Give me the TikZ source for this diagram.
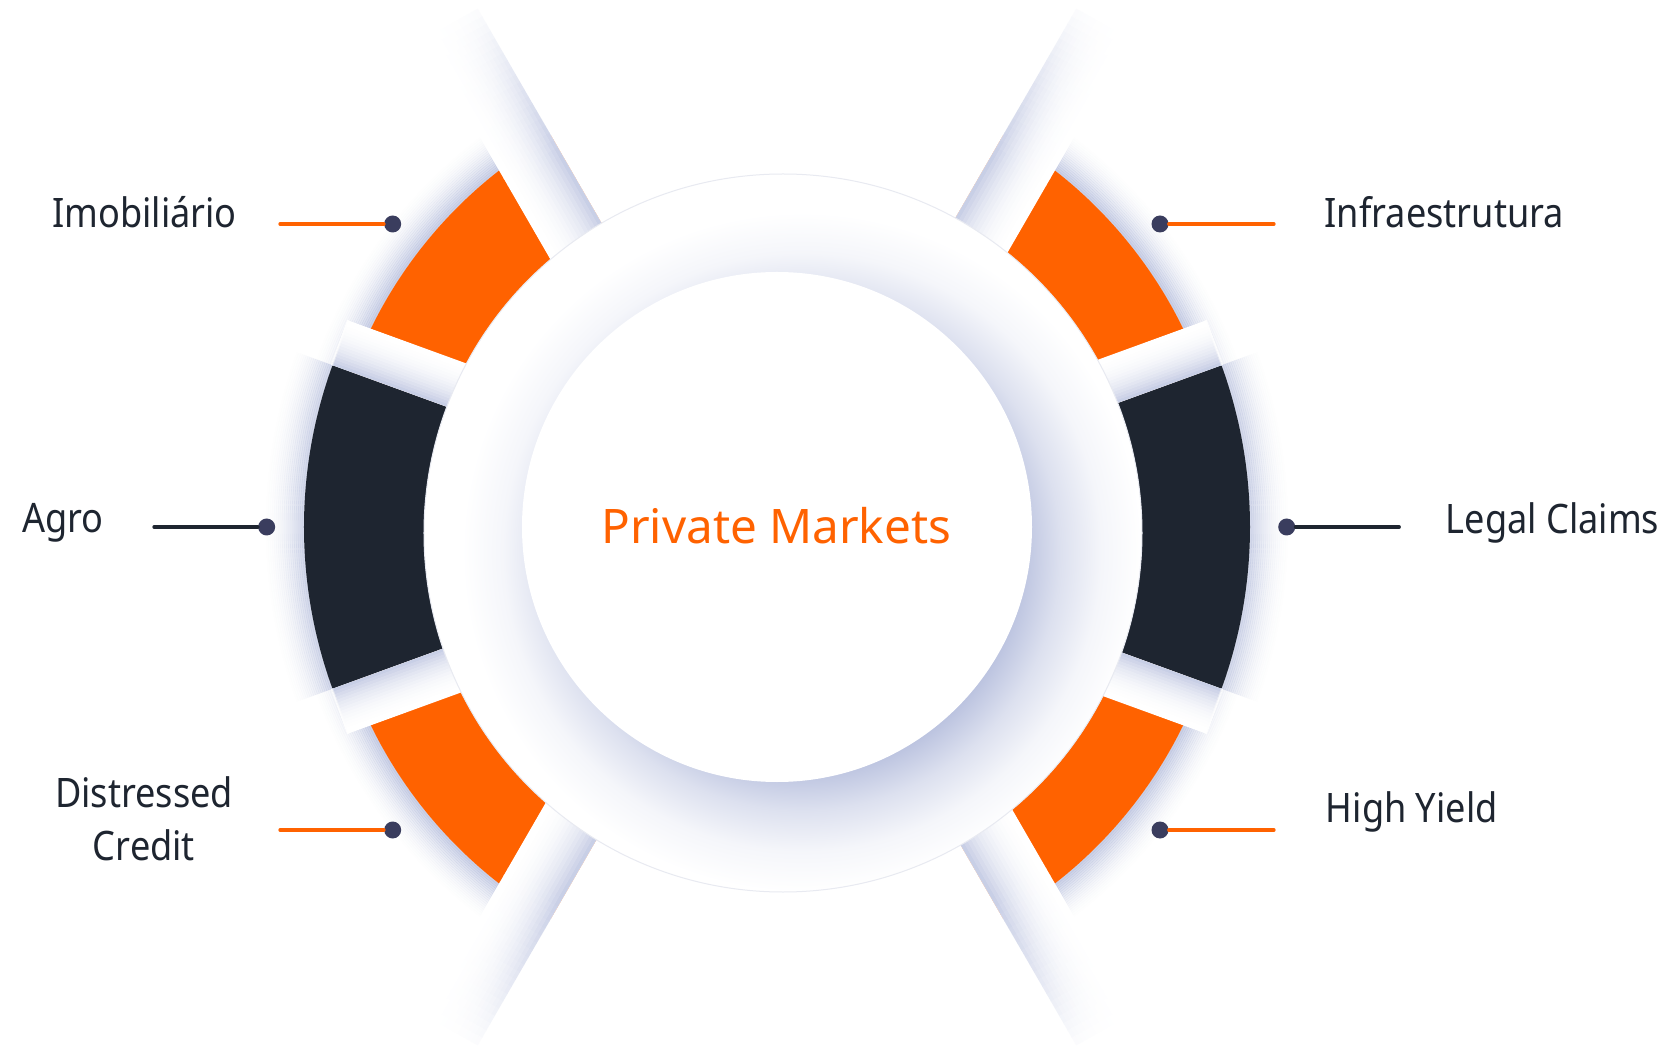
\documentclass[tikz,border=0pt]{standalone}
\usepackage{fontspec}
\setmainfont{Noto Sans}
\newfontfamily\lblfont{Noto Sans}[FakeStretch=0.89]
\definecolor{orng}{HTML}{FF6200}
\definecolor{darkseg}{HTML}{1E2530}
\definecolor{txt}{HTML}{1E2530}
\definecolor{dotc}{HTML}{3A3D5E}
\definecolor{sh}{HTML}{BAC2DF}
\colorlet{shA}{sh!50!white}
\colorlet{shB}{sh!15!white}
\pgfdeclareradialshading{icshadow}{\pgfpoint{0bp}{0bp}}{color(0bp)=(sh); color(16bp)=(sh); color(19bp)=(shA); color(22bp)=(shB); color(25bp)=(white); color(50bp)=(white)}
\newcommand{\shband}[6]{% angle, side, width, x0, x1, fade start
  \begin{scope}[rotate=#1]
    \fill[white] (#4,0) rectangle (#5,#2*#3);
    \foreach \j in {0,...,15}{
      \pgfmathsetmacro\ya{#2*#3*\j/16}
      \pgfmathsetmacro\yb{#2*#3*(\j+1)/16+#2*0.4}
      \pgfmathsetmacro\pc{85*(1-(\j+0.5)/16)^2.2}
      \fill[sh!\pc!white] (#4,\ya) rectangle (#6+0.5,\yb);
      \foreach \k in {0,...,19}{
        \pgfmathsetmacro\xa{#6+(#5-#6)*\k/20}
        \pgfmathsetmacro\xb{#6+(#5-#6)*(\k+1)/20+0.5}
        \pgfmathsetmacro\fd{1-0.95*(\k+0.5)/20}
        \pgfmathsetmacro\pk{\pc*\fd}
        \fill[sh!\pk!white] (\xa,\ya) rectangle (\xb,\yb);
      }
    }
  \end{scope}}
\newcommand{\halo}[4]{% start, end, radius, strength
  \foreach \i in {1,...,20}{
    \pgfmathsetmacro\rr{#3+2*\i-1}
    \pgfmathsetmacro\op{#4*(1-\i/21)^2}
    \draw[sh, line width=2.4pt, opacity=\op] (#1:\rr pt) arc[start angle=#1, end angle=#2, radius=\rr pt];
  }}
\tikzset{
  lbl/.style={text=txt, font=\lblfont\fontsize{40.6pt}{52.7pt}\selectfont, inner sep=0pt},
  ttl/.style={text=orng, font=\fontsize{47.6pt}{57pt}\selectfont, inner sep=0pt},
  dotn/.style={circle, fill=dotc, minimum size=17pt, inner sep=0pt},
  oline/.style={draw=orng, line width=3.2pt, line cap=round},
  dline/.style={draw=darkseg, line width=3.2pt, line cap=round},
  orngseg/.style={fill=orng},
  darkfill/.style={fill=darkseg}
}
\begin{document}
\begin{tikzpicture}[x=1pt,y=1pt]
\useasboundingbox (-777,-519) rectangle (895,527);
\fill[white] (-777,-519) rectangle (895,527);
% halos
\halo{120}{160}{452}{0.85}
\halo{200}{240}{452}{0.85}
\halo{20}{60}{452}{0.85}
\halo{300}{340}{452}{0.85}
\halo{160}{200}{473}{0.7}
\halo{-20}{20}{473}{0.7}
% segments
\fill[orngseg] (120:330pt) arc[start angle=120,end angle=160,radius=330pt] -- (160:452pt) arc[start angle=160,end angle=120,radius=452pt] -- cycle;
\fill[orngseg] (200:330pt) arc[start angle=200,end angle=240,radius=330pt] -- (240:452pt) arc[start angle=240,end angle=200,radius=452pt] -- cycle;
\fill[orngseg] (20:330pt) arc[start angle=20,end angle=60,radius=330pt] -- (60:452pt) arc[start angle=60,end angle=20,radius=452pt] -- cycle;
\fill[orngseg] (300:330pt) arc[start angle=300,end angle=340,radius=330pt] -- (340:452pt) arc[start angle=340,end angle=300,radius=452pt] -- cycle;
\fill[darkfill] (160:330pt) arc[start angle=160,end angle=200,radius=330pt] -- (200:473pt) arc[start angle=200,end angle=160,radius=473pt] -- cycle;
\fill[darkfill] (-20:330pt) arc[start angle=-20,end angle=20,radius=330pt] -- (20:473pt) arc[start angle=20,end angle=-20,radius=473pt] -- cycle;
% gap bands
\shband{160}{-1}{47}{250}{474}{472}
\shband{200}{1}{47}{250}{474}{472}
\shband{20}{1}{47}{250}{474}{472}
\shband{340}{-1}{47}{250}{474}{472}
% spokes
\shband{120}{1}{62}{250}{598}{430}
\shband{240}{-1}{62}{250}{598}{430}
\shband{60}{-1}{62}{250}{598}{430}
\shband{300}{1}{62}{250}{598}{430}
% ring
\fill[white] (6,-6) circle (359pt);
\begin{scope}
  \clip (6,-6) circle (359pt);
  \shade[shading=icshadow] (25,-25) circle (340pt);
\end{scope}
\draw[draw={rgb,255:red,232;green,234;blue,241}, line width=1pt] (6,-6) circle (359pt);
% inner circle
\fill[white] (0,0) circle (255pt);
\node[ttl, anchor=base] (pm) at (-0.7,-17) {Private Markets};
% labels
\node[lbl, anchor=base east] (imob) at (-540,299) {Imobiliário};
\coordinate (imobA) at (-497,303);
\node[dotn] (imobD) at (-384.3,303) {};
\draw[oline] (imobA) -- (imobD);

\node[lbl, anchor=base west] (infra) at (547.3,299) {Infraestrutura};
\coordinate (infraA) at (497,303);
\node[dotn] (infraD) at (383,303) {};
\draw[oline] (infraD) -- (infraA);

\node[lbl, anchor=base east] (agro) at (-673,-5.7) {Agro};
\coordinate (agroA) at (-623,0);
\node[dotn] (agroD) at (-510.3,0) {};
\draw[dline] (agroA) -- (agroD);

\node[lbl, anchor=base west] (legal) at (668.7,-6.3) {Legal Claims};
\coordinate (legalA) at (622.3,0);
\node[dotn] (legalD) at (509.7,0) {};
\draw[dline] (legalD) -- (legalA);

\node[lbl, anchor=base west] (hy) at (548.7,-295.7) {High Yield};
\coordinate (hyA) at (497,-303);
\node[dotn] (hyD) at (383,-303) {};
\draw[oline] (hyD) -- (hyA);

\node[lbl, align=center, anchor=center] (dc) at (-633,-292) {Distressed\\Credit};
\coordinate (dcA) at (-497,-303);
\node[dotn] (dcD) at (-384.3,-303) {};
\draw[oline] (dcA) -- (dcD);
\end{tikzpicture}
\end{document}
